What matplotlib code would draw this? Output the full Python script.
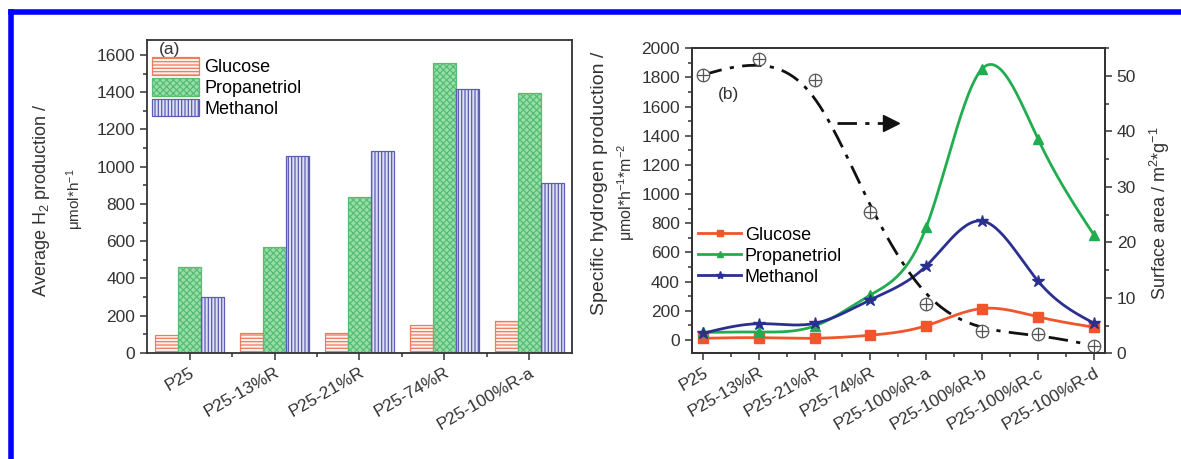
import numpy as np
import matplotlib

matplotlib.use("Agg")
import matplotlib.pyplot as plt
from matplotlib.lines import Line2D
from matplotlib.ticker import MultipleLocator

plt.rcParams["font.family"] = ["Liberation Sans", "DejaVu Sans"]
plt.rcParams["mathtext.default"] = "regular"
plt.rcParams["hatch.linewidth"] = 0.9

# (a) average H2 production, umol/h
bar_labels = ["P25", "P25-13%R", "P25-21%R", "P25-74%R", "P25-100%R-a"]
bar_glucose = [95, 107, 107, 152, 173]
bar_propanetriol = [461, 568, 836, 1554, 1393]
bar_methanol = [298, 1059, 1086, 1417, 911]

# (b) specific hydrogen production, umol/h/m2, and surface area m2/g
line_labels = ["P25", "P25-13%R", "P25-21%R", "P25-74%R",
               "P25-100%R-a", "P25-100%R-b", "P25-100%R-c", "P25-100%R-d"]
spec_glucose = [12, 16, 12, 33, 98, 216, 159, 88]
spec_propanetriol = [52, 55, 96, 309, 774, 1859, 1379, 722]
spec_methanol = [46, 112, 114, 276, 508, 816, 405, 116]
surface_area = [50.2, 53.0, 49.3, 25.5, 8.8, 4.0, 3.4, 1.4]

TXT = "#333333"
RED = "#f0552b"
GREEN = "#21ad4f"
NAVY = "#2b2f8f"


def natural_spline(x, y, n=30):
    # interpolating cubic spline (like Origin's "spline" connect)
    x = np.asarray(x, float)
    y = np.asarray(y, float)
    k = len(x)
    h = np.diff(x)
    A = np.zeros((k, k))
    b = np.zeros(k)
    A[0, 0] = A[-1, -1] = 1
    for i in range(1, k - 1):
        A[i, i - 1] = h[i - 1]
        A[i, i] = 2 * (h[i - 1] + h[i])
        A[i, i + 1] = h[i]
        b[i] = 6 * ((y[i + 1] - y[i]) / h[i] - (y[i] - y[i - 1]) / h[i - 1])
    m = np.linalg.solve(A, b)
    xs, ys = [], []
    for i in range(k - 1):
        t = np.linspace(x[i], x[i + 1], n)
        a, c = x[i + 1] - t, t - x[i]
        s = (m[i] * a ** 3 + m[i + 1] * c ** 3) / (6 * h[i]) \
            + (y[i] / h[i] - m[i] * h[i] / 6) * a + (y[i + 1] / h[i] - m[i + 1] * h[i] / 6) * c
        xs.append(t)
        ys.append(s)
    return np.concatenate(xs), np.concatenate(ys)


def bspline(x, y, n=30):
    # clamped uniform cubic B-spline (does not pass through inner points)
    P = np.column_stack([x, y]).astype(float)
    P = np.vstack([P[:1], P[:1], P, P[-1:], P[-1:]])
    M = np.array([[-1, 3, -3, 1], [3, -6, 3, 0], [-3, 0, 3, 0], [1, 4, 1, 0]]) / 6.0
    out = []
    t = np.linspace(0, 1, n)
    T = np.column_stack([t ** 3, t ** 2, t, np.ones_like(t)])
    for i in range(len(P) - 3):
        out.append(T @ M @ P[i:i + 4])
    out = np.vstack(out)
    return out[:, 0], out[:, 1]


def style_axis(ax):
    for sp in ax.spines.values():
        sp.set_color(TXT)
        sp.set_linewidth(1.3)
    ax.tick_params(which="both", direction="out", color=TXT, labelcolor=TXT,
                   width=1.1, labelsize=12.5)
    ax.tick_params(which="major", length=5)
    ax.tick_params(which="minor", length=3)


fig = plt.figure(figsize=(11.81, 4.59), dpi=100)

# ---------------- (a) bars ----------------
ax1 = fig.add_axes([0.1245, 0.2309, 0.3598, 0.682])
x = np.arange(len(bar_labels))
w = 0.27
ax1.bar(x - w, bar_glucose, w, facecolor="#fff1ec", edgecolor="#f07a5e",
        hatch="-----", lw=0.9, label="Glucose")
ax1.bar(x, bar_propanetriol, w, facecolor="#98dcaa", edgecolor="#55bd74",
        hatch="xxxxx", lw=0.9, label="Propanetriol")
ax1.bar(x + w, bar_methanol, w, facecolor="#dedff3", edgecolor="#5a5fb0",
        hatch="|||||", lw=0.9, label="Methanol")
ax1.set_xlim(-0.5, len(bar_labels) - 0.5)
ax1.set_ylim(0, 1680)
ax1.yaxis.set_major_locator(MultipleLocator(200))
ax1.yaxis.set_minor_locator(MultipleLocator(100))
ax1.set_xticks(x)
ax1.set_xticks(x[:-1] + 0.5, minor=True)
ax1.set_xticklabels(bar_labels, rotation=30, ha="right", va="top",
                    rotation_mode="anchor")
style_axis(ax1)
ax1.legend(loc="upper left", bbox_to_anchor=(0.012, 0.945), frameon=False,
           fontsize=13, handlelength=2.6, handleheight=1.1, labelspacing=0.12,
           handletextpad=0.3, borderaxespad=0, borderpad=0)
ax1.text(0.052, 0.968, "(a)", transform=ax1.transAxes, ha="center",
         va="center", fontsize=12.5, color=TXT)
fig.text(0.035, 0.565, "Average H$_2$ production /", rotation=90,
         ha="center", va="center", fontsize=13, color=TXT)
fig.text(0.064, 0.565, "μmol*h$^{-1}$", rotation=90,
         ha="center", va="center", fontsize=11, color=TXT)

# ---------------- (b) lines ----------------
ax2 = fig.add_axes([0.5857, 0.2303, 0.3499, 0.6645])
ax3 = ax2.twinx()
xl = np.arange(len(line_labels))

for vals, col, mk, ms in [(spec_glucose, RED, "s", 6.5),
                          (spec_propanetriol, GREEN, "^", 7.5),
                          (spec_methanol, NAVY, "*", 9)]:
    sx, sy = natural_spline(xl, vals)
    ax2.plot(sx, sy, color=col, lw=2)
    ax2.plot(xl, vals, ls="none", marker=mk, color=col, ms=ms)

bx, by = bspline(xl, surface_area)
ax3.plot(bx, by, color="#111111", lw=2, ls=(0, (7, 3, 1.5, 3)))
ax3.plot(xl, surface_area, ls="none", marker="o", mfc="white", mec="#555555",
         ms=9, mew=0.9)
ax3.plot(xl, surface_area, ls="none", marker="+", mec="#555555", ms=9, mew=0.9)

# arrow pointing to the right axis
arrow_x = [2.41, 3.3]
arrow_y = 1490
ax2.plot(arrow_x, [arrow_y, arrow_y], color="#111111", lw=2,
         ls=(0, (7, 3, 1.5, 3)))
ax2.plot(3.36, arrow_y, marker=">", color="#111111", ms=11)

ax2.set_xlim(-0.2, len(line_labels) - 0.8)
ax2.set_ylim(-91, 2000)
ax3.set_ylim(0, 55)
ax2.yaxis.set_major_locator(MultipleLocator(200))
ax2.yaxis.set_minor_locator(MultipleLocator(100))
ax3.yaxis.set_major_locator(MultipleLocator(10))
ax3.yaxis.set_minor_locator(MultipleLocator(5))
ax2.set_xticks(xl)
ax2.set_xticks(xl[:-1] + 0.5, minor=True)
ax2.set_xticklabels(line_labels, rotation=30, ha="right", va="top",
                    rotation_mode="anchor")
style_axis(ax2)
style_axis(ax3)
ax2.text(0.088, 0.847, "(b)", transform=ax2.transAxes, ha="center",
         va="center", fontsize=12.5, color=TXT)

handles = [Line2D([], [], color=RED, lw=2, marker="s", ms=5),
           Line2D([], [], color=GREEN, lw=2, marker="^", ms=5),
           Line2D([], [], color=NAVY, lw=2, marker="*", ms=6)]
ax2.legend(handles, ["Glucose", "Propanetriol", "Methanol"], loc="upper left",
           bbox_to_anchor=(0.015, 0.415), frameon=False, fontsize=13,
           handlelength=2.4, labelspacing=0.22, handletextpad=0.2,
           borderaxespad=0, borderpad=0)

fig.text(0.508, 0.6, "Specific hydrogen production /", rotation=90,
         ha="center", va="center", fontsize=14, color=TXT)
fig.text(0.530, 0.58, "μmol*h$^{-1}$*m$^{-2}$", rotation=90,
         ha="center", va="center", fontsize=11.5, color=TXT)
fig.text(0.982, 0.536, "Surface area / m$^{2}$*g$^{-1}$", rotation=90,
         ha="center", va="center", fontsize=13, color=TXT)

# blue frame (top and left only)
fig.add_artist(Line2D([0.0089, 1.0], [0.9728, 0.9728], color="#0000ff",
                      lw=4, transform=fig.transFigure))
fig.add_artist(Line2D([0.0089, 0.0089], [0.0, 0.9728], color="#0000ff",
                      lw=4, transform=fig.transFigure))

fig.savefig("out.png", dpi=100)
